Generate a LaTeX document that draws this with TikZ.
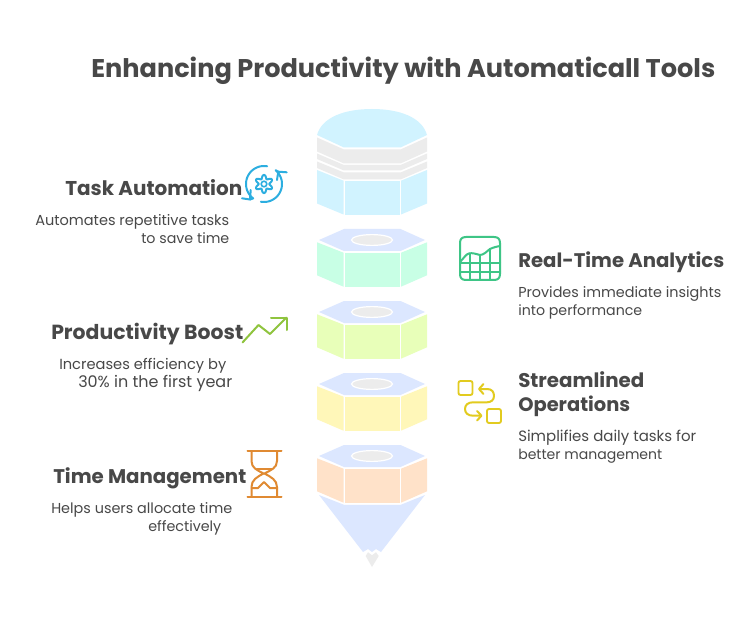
\documentclass[tikz,border=0pt]{standalone}
\usepackage{fontspec}
\usepackage{graphicx}
\setmainfont{Poppins}
\definecolor{ink}{HTML}{484848}
\definecolor{cyanF}{HTML}{D1F3FF}
\definecolor{greyF}{HTML}{ECECEC}
\definecolor{topF}{HTML}{DCE7FF}
\definecolor{greenF}{HTML}{C8FFE5}
\definecolor{limeF}{HTML}{E8FFB9}
\definecolor{yellowF}{HTML}{FFF7B9}
\definecolor{peachF}{HTML}{FFE2C9}
\definecolor{icoBlue}{HTML}{2CAEE0}
\definecolor{icoGreen}{HTML}{3EC586}
\definecolor{icoLime}{HTML}{8FC43E}
\definecolor{icoYellow}{HTML}{E2CB1F}
\definecolor{icoOrange}{HTML}{E08A32}
\tikzset{
  headtext/.style={anchor=base west,inner sep=0pt,text=ink,font=\bfseries\fontsize{16}{16}\selectfont},
  bodytext/.style={anchor=base west,inner sep=0pt,text=ink,font=\fontsize{10}{10}\selectfont},
  titletext/.style={anchor=base west,inner sep=0pt,text=ink,font=\bfseries\fontsize{18}{18}\selectfont},
  icon/.style={line width=1.5pt,line cap=round,line join=round,fill=none},
}
% \txt{name}{style}{x0}{x1}{baseline}{text}
\newcommand\txt[6]{%
  \pgfmathsetmacro\txtwidth{(#4-#3)*0.75}%
  \node[#2] (#1) at (#3,#5+0.7) {\resizebox{\txtwidth pt}{!}{#6}};}
\newcommand\hexblock[2]{%
  \begin{scope}[shift={(0,#1)}]
    \fill[topF] (344,229)--(400.5,229)--(425,240)--(400.5,251)--(344,251)--(319,240)--cycle;
    \filldraw[fill=greyF,draw=white,line width=0.9pt] (372,240) ellipse (20.5 and 5.4);
    \fill[#2] (317,242.3)--(343.5,252.7)--(343.5,286.7)--(317,275.3)--cycle;
    \fill[#2] (344.8,252.7) rectangle (399.8,286.7);
    \fill[#2] (401,252.7)--(427,242.3)--(427,275.3)--(401,286.7)--cycle;
  \end{scope}}
\begin{document}
\begin{tikzpicture}[x=0.75pt,y=-0.75pt]
\useasboundingbox (0,0) rectangle (744,617);
\fill[white] (0,0) rectangle (744,617);

\txt{title}{titletext}{91}{715}{77}{Enhancing Productivity with Automaticall Tools}

% top cylinder
\fill[cyanF] (317,135) .. controls (322,117) and (345,109) .. (372,109) .. controls (399,109) and (422,117) .. (427,135) -- (400.5,147.5) -- (344,147.5) -- cycle;
\fill[greyF] (317,137.5)--(344,149.5)--(400.5,149.5)--(427,137.5)--(427,151.5)--(400.5,163.5)--(344,163.5)--(317,151.5)--cycle;
\fill[greyF] (317,153.5)--(344,165)--(400.5,165)--(427,153.5)--(427,159)--(400.5,170.5)--(344,170.5)--(317,159)--cycle;
\fill[greyF] (317,161.5)--(344,172.5)--(400.5,172.5)--(427,161.5)--(427,168)--(400.5,179.5)--(344,179.5)--(317,168)--cycle;
\fill[cyanF] (317,170)--(343.5,180.7)--(343.5,214.5)--(317,203.5)--cycle;
\fill[cyanF] (344.8,180.7) rectangle (399.8,215);
\fill[cyanF] (401,180.7)--(427,170)--(427,203.5)--(401,214.5)--cycle;

\hexblock{0}{greenF}
\hexblock{72}{limeF}
\hexblock{144}{yellowF}
\hexblock{216}{peachF}

% cone
\fill[topF] (319,495)--(344,504.8)--(400.7,504.8)--(425,495)--(381,552)--(376,549)--(372,552)--(368,549)--(363,552)--cycle;
\fill[greyF] (365.7,556)--(368,552.3)--(372,555.3)--(376,552.3)--(378.7,556)--(372,567)--cycle;

% task automation icon
\draw[icon,icoBlue] plot[domain=280:127,samples=30,smooth] ({264+18*cos(\x)},{184+18*sin(\x)}) -- (250,199.5);
\draw[icon,icoBlue] (242,198.3)--(250,199.5)--(250.7,190);
\draw[icon,icoBlue] plot[domain=100:-50,samples=30,smooth] ({264+18*cos(\x)},{184+18*sin(\x)}) -- (278.3,171.7);
\draw[icon,icoBlue] (277,180) -- (278.3,171.7) -- (286.7,172.3);
\draw[icon,icoBlue] plot[domain=0:360,samples=73,smooth] ({264+(7.2+1.9*cos(6*\x))*cos(\x+90)},{184+(7.2+1.9*cos(6*\x))*sin(\x+90)}) -- cycle;
\draw[icon,icoBlue,line width=1.2pt] (264,184) circle (2.8);

% analytics icon
\draw[icon,icoGreen] (460,243) .. controls (460,239) and (462,237) .. (466,237) -- (494,237) .. controls (498,237) and (500,239) .. (500,243) -- (500,274) .. controls (500,278) and (498,280) .. (494,280) -- (466,280) .. controls (462,280) and (460,278) .. (460,274) -- cycle;
\draw[icon,icoGreen] (460,262) .. controls (464,258) and (466,254) .. (469,253.5) .. controls (472,252.5) and (476,254) .. (480,255) .. controls (484,255) and (487,251) .. (490,249) .. controls (493,247.5) and (497,246.5) .. (500,246);
\draw[icon,icoGreen] (460,263.5)--(500,263.5) (460,271.7)--(500,271.7) (470,253.5)--(470,280) (480,255)--(480,280) (490,249)--(490,280);

% productivity icon
\draw[icon,icoLime] (242.5,342.5)--(258.5,325)--(270,334)--(286.5,317.5);
\draw[icon,icoLime] (271,317.5)--(286.5,317.5)--(286.5,330);

% streamlined icon
\draw[icon,icoYellow,line width=1.4pt,rounded corners=1.5pt] (458.5,381) rectangle (472.5,395);
\draw[icon,icoYellow,line width=1.4pt,rounded corners=1.5pt] (487,409) rectangle (501,423);
\draw[icon,icoYellow] (479.5,389) -- (487,389) .. controls (492,389) and (494,392) .. (494,396) .. controls (494,400) and (491,402.3) .. (487,402.3) -- (473,402.3) .. controls (468,402.3) and (465,405) .. (465,409) .. controls (465,413) and (468,415.7) .. (473,415.7) -- (481,415.7);
\draw[icon,icoYellow] (483.5,384) -- (479,389) -- (483.5,394);
\draw[icon,icoYellow] (477,411) -- (481.5,415.7) -- (477,420.5);

% hourglass icon
\draw[icon,icoOrange] (247.5,451)--(281.5,451) (247.5,496.7)--(281.5,496.7);
\draw[icon,icoOrange] (251.5,451)--(251.5,461) .. controls (251.5,468) and (257,470) .. (263.5,473.5) .. controls (257,477) and (251.5,480) .. (251.5,487)--(251.5,496.7);
\draw[icon,icoOrange] (277,451)--(277,461) .. controls (277,468) and (271,470) .. (264.5,473.5) .. controls (271,477) and (277,480) .. (277,487)--(277,496.7);
\draw[icon,icoOrange] (257,469)--(272,469);
\draw[icon,icoOrange] (251.5,488)--(258,488)--(264,482)--(270,488)--(277,488);

% labels
\txt{h1}{headtext}{65}{242}{195}{Task Automation}
\txt{b1a}{bodytext}{35}{229}{225}{Automates repetitive tasks}
\txt{b1b}{bodytext}{141}{229}{243}{to save time}
\txt{h2}{headtext}{518}{724}{267}{Real-Time Analytics}
\txt{b2a}{bodytext}{518}{721}{297}{Provides immediate insights}
\txt{b2b}{bodytext}{518}{642}{315}{into performance}
\txt{h3}{headtext}{51}{243}{339}{Productivity Boost}
\txt{b3a}{bodytext}{59}{226}{369}{Increases efficiency by}
\txt{b3b}{bodytext}{78}{232}{387}{30\% in the first year}
\txt{h4a}{headtext}{518}{644}{387}{Streamlined}
\txt{h4b}{headtext}{518}{630}{411}{Operations}
\txt{b4a}{bodytext}{518}{696}{441}{Simplifies daily tasks for}
\txt{b4b}{bodytext}{518}{662}{459}{better management}
\txt{h5}{headtext}{53}{246}{483}{Time Management}
\txt{b5a}{bodytext}{51}{232}{513}{Helps users allocate time}
\txt{b5b}{bodytext}{148}{221}{531}{effectively}
\end{tikzpicture}
\end{document}
